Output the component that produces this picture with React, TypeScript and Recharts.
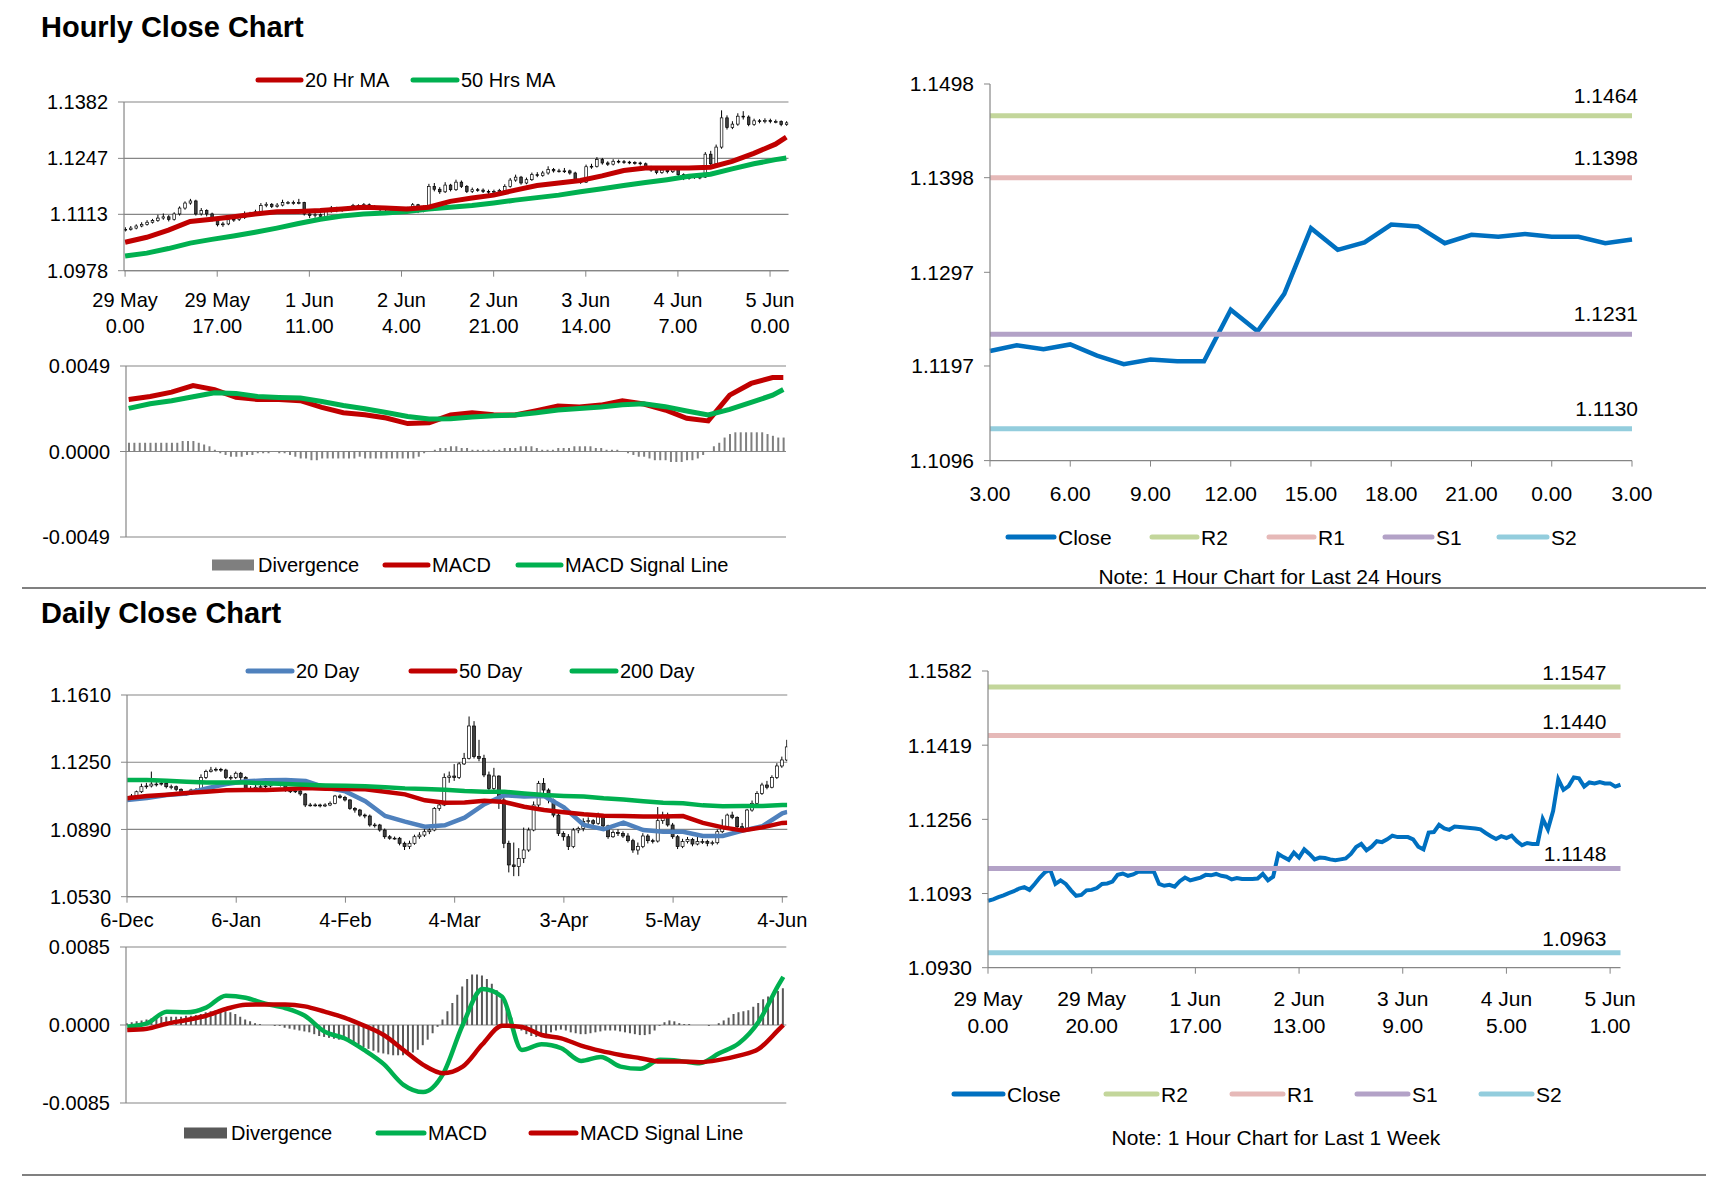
import React from "react";
import {
  ComposedChart,
  Bar,
  Line,
  XAxis,
  YAxis,
  CartesianGrid,
  ReferenceLine,
} from "recharts";

// ---------- hourly data (29 May 0.00 -> 5 Jun 3.00, one row per hour) ----------
const hourlyClose = [
  1.1077, 1.108, 1.1085, 1.1089, 1.1094, 1.1098, 1.1104, 1.1107, 1.1101, 1.1114,
  1.1128, 1.114, 1.1145, 1.1114, 1.1122, 1.1114, 1.11, 1.1088, 1.109, 1.11,
  1.1101, 1.1105, 1.1114, 1.1115, 1.1119, 1.1134, 1.1137, 1.1132, 1.1135, 1.1141,
  1.1141, 1.1141, 1.1141, 1.1114, 1.111, 1.1112, 1.1108, 1.112, 1.1128, 1.1122,
  1.1125, 1.1128, 1.1134, 1.1133, 1.1136, 1.1132, 1.113, 1.1124, 1.1127, 1.1125,
  1.1125, 1.1125, 1.1126, 1.1136, 1.1122, 1.113, 1.118, 1.1173, 1.1167, 1.1183,
  1.1172, 1.119, 1.118, 1.1168, 1.1172, 1.1171, 1.1168, 1.1166, 1.1168, 1.117,
  1.118, 1.1195, 1.1202, 1.1188, 1.1196, 1.1208, 1.1206, 1.1212, 1.122, 1.1217,
  1.1217, 1.1217, 1.1212, 1.1196, 1.119, 1.1227, 1.1228, 1.1244, 1.1236, 1.1233,
  1.124, 1.1239, 1.1238, 1.1237, 1.1236, 1.1234, 1.1226, 1.1219, 1.1213, 1.1219,
  1.1215, 1.122, 1.1208, 1.1199, 1.1204, 1.1202, 1.1202, 1.1257, 1.1234, 1.1274,
  1.1344, 1.1321, 1.1329, 1.1348, 1.1346, 1.1328, 1.1337, 1.1335, 1.1338, 1.1335,
  1.1335, 1.1328, 1.1332,
];
const hourlyHigh = [
  1.1082, 1.1085, 1.1089, 1.1094, 1.1099, 1.1102, 1.1112, 1.1115, 1.1111, 1.1118,
  1.1132, 1.1144, 1.115, 1.1148, 1.1128, 1.1125, 1.1117, 1.1103, 1.1095, 1.1104,
  1.1106, 1.111, 1.112, 1.1119, 1.1124, 1.114, 1.1142, 1.114, 1.114, 1.1148,
  1.1145, 1.1146, 1.115, 1.1143, 1.1118, 1.1117, 1.1115, 1.1124, 1.1133, 1.1131,
  1.113, 1.1132, 1.1138, 1.1137, 1.114, 1.1139, 1.1135, 1.1133, 1.1131, 1.113,
  1.1129, 1.1129, 1.1131, 1.114, 1.1138, 1.1134, 1.1186, 1.1188, 1.1178, 1.119,
  1.1186, 1.1196, 1.1194, 1.1183, 1.1177, 1.1176, 1.1175, 1.1172, 1.1172, 1.1174,
  1.1185, 1.12, 1.1208, 1.1205, 1.1201, 1.1213, 1.1214, 1.1217, 1.1228, 1.1224,
  1.1222, 1.1224, 1.122, 1.1215, 1.12, 1.1232, 1.1234, 1.125, 1.1248, 1.124,
  1.1245, 1.1244, 1.1243, 1.1241, 1.124, 1.1239, 1.1237, 1.1229, 1.1222, 1.1224,
  1.1222, 1.1225, 1.1223, 1.1211, 1.1209, 1.1208, 1.1207, 1.1262, 1.1265, 1.128,
  1.1362, 1.135, 1.1336, 1.1355, 1.136, 1.135, 1.1342, 1.1341, 1.1343, 1.1342,
  1.134, 1.1338, 1.1336,
];
const hourlyLow = [
  1.1072, 1.1074, 1.1077, 1.1082, 1.1086, 1.1091, 1.1095, 1.11, 1.1096, 1.1098,
  1.111, 1.1124, 1.1136, 1.111, 1.111, 1.1108, 1.1096, 1.1084, 1.1083, 1.1087,
  1.1095, 1.1097, 1.1102, 1.111, 1.1111, 1.1116, 1.113, 1.1128, 1.1129, 1.1132,
  1.1137, 1.1136, 1.1137, 1.111, 1.1104, 1.1105, 1.1103, 1.1105, 1.1117, 1.1118,
  1.1119, 1.1121, 1.1125, 1.1129, 1.113, 1.1128, 1.1126, 1.112, 1.1121, 1.1121,
  1.1121, 1.1122, 1.1121, 1.1123, 1.1116, 1.1118, 1.1127, 1.1168, 1.1162, 1.1164,
  1.1168, 1.1169, 1.1176, 1.1164, 1.1164, 1.1167, 1.1164, 1.1162, 1.1162, 1.1164,
  1.1167, 1.1177, 1.1191, 1.1184, 1.1185, 1.1193, 1.1202, 1.1203, 1.1208, 1.1213,
  1.1213, 1.1212, 1.1208, 1.1192, 1.1186, 1.1188, 1.1222, 1.1225, 1.1232, 1.1229,
  1.123, 1.1235, 1.1234, 1.1233, 1.1232, 1.123, 1.1222, 1.1215, 1.1209, 1.121,
  1.1211, 1.1212, 1.1204, 1.1195, 1.1196, 1.1198, 1.1197, 1.12, 1.123, 1.123,
  1.127, 1.1316, 1.1317, 1.1325, 1.134, 1.1324, 1.1325, 1.1331, 1.1331, 1.1331,
  1.1331, 1.1324, 1.1325,
];
const hourlyTickIdx = [0, 17, 34, 51, 68, 85, 102, 119];
const hourlyTickLabels = [
  ["29 May", "0.00"], ["29 May", "17.00"], ["1 Jun", "11.00"], ["2 Jun", "4.00"],
  ["2 Jun", "21.00"], ["3 Jun", "14.00"], ["4 Jun", "7.00"], ["5 Jun", "0.00"],
];
const hourlySampleIdx = [
  0, 4, 8, 12, 16, 20, 24, 28, 32, 36, 40, 44, 48, 52, 56, 60, 64, 68, 72, 76,
  80, 84, 88, 92, 96, 100, 104, 108, 112, 116, 120, 122,
];
const hourlyMa20 = [
  1.1046, 1.1058, 1.1075, 1.1096, 1.1101, 1.1107, 1.1114, 1.1119, 1.112, 1.1122,
  1.1126, 1.113, 1.1128, 1.1126, 1.113, 1.1144, 1.1152, 1.1159, 1.1171, 1.1182,
  1.1188, 1.1194, 1.1205, 1.1218, 1.1224, 1.1224, 1.1224, 1.1226, 1.124, 1.1259,
  1.1281, 1.1298,
];
const hourlyMa50 = [
  1.1013, 1.102, 1.1031, 1.1044, 1.1053, 1.1061, 1.107, 1.108, 1.1091, 1.1101,
  1.1109, 1.1114, 1.1116, 1.112, 1.1126, 1.113, 1.1134, 1.114, 1.1147, 1.1153,
  1.1159, 1.1167, 1.1174, 1.1182, 1.1189, 1.1196, 1.1204, 1.1209, 1.1222, 1.1234,
  1.1244, 1.1248,
];
const hourlyMacd = [
  0.00298, 0.00315, 0.0034, 0.00378, 0.00355, 0.0031, 0.00298, 0.00298, 0.00291, 0.00253,
  0.00222, 0.00211, 0.00192, 0.0016, 0.00165, 0.00209, 0.00222, 0.00211, 0.00209, 0.00234,
  0.0026, 0.00255, 0.00266, 0.00291, 0.00272, 0.00238, 0.0019, 0.00175, 0.00323, 0.0039,
  0.00424, 0.00424,
];
const hourlySignal = [
  0.00247, 0.00274, 0.00291, 0.00314, 0.00336, 0.00333, 0.00315, 0.0031, 0.00306, 0.00287,
  0.00264, 0.00245, 0.00224, 0.00201, 0.00186, 0.00188, 0.00198, 0.00205, 0.00209, 0.00222,
  0.00238, 0.00247, 0.00255, 0.00268, 0.00274, 0.00257, 0.00232, 0.00209, 0.00241, 0.00281,
  0.00323, 0.00355,
];
const hourlyDivergence = [
  0.0005, 0.0005, 0.0005, 0.0005, 0.0005, 0.0005, 0.0005, 0.0005, 0.0005, 0.0005,
  0.0006, 0.0006, 0.0006, 0.0005, 0.0004, 0.0003, 0.0001, -0.0001, -0.0002, -0.0003,
  -0.0003, -0.0003, -0.0002, -0.0002, -0.0001, -0.0001, -0.0001, 0, -0.0001, -0.0001,
  -0.0002, -0.0003, -0.0004, -0.0004, -0.0005, -0.0005, -0.0004, -0.0004, -0.0004, -0.0004,
  -0.0004, -0.0004, -0.0004, -0.0003, -0.0004, -0.0004, -0.0004, -0.0004, -0.0004, -0.0004,
  -0.0004, -0.0004, -0.0004, -0.0004, -0.0003, -0.0001, 0, 0.0001, 0.0002, 0.0002,
  0.0003, 0.0003, 0.0002, 0.0002, 0.0001, 0.0001, 0.0001, 0.0001, 0.0001, 0.0001,
  0.0002, 0.0002, 0.0002, 0.0003, 0.0003, 0.0003, 0.0002, 0.0001, 0.0001, 0.0001,
  0.0002, 0.0002, 0.0002, 0.0003, 0.0003, 0.0003, 0.0003, 0.0002, 0.0002, 0.0001,
  0.0001, 0.0001, 0, -0.0001, -0.0002, -0.0003, -0.0003, -0.0004, -0.0005, -0.0005,
  -0.0005, -0.0006, -0.0006, -0.0006, -0.0005, -0.0005, -0.0004, -0.0002, 0, 0.0003,
  0.0005, 0.0008, 0.001, 0.0011, 0.0011, 0.0011, 0.0011, 0.0011, 0.0011, 0.001,
  0.0009, 0.0008, 0.0008,
];
const hourlyPriceTicks = [1.0978, 1.1113, 1.1247, 1.1382];
const hourlyMacdTicks = [-0.0049, 0, 0.0049];

// ---------- pivot levels ----------
const levelNames = ["R2", "R1", "S1", "S2"];
const levels24h = [1.1464, 1.1398, 1.1231, 1.113];
const levelsWeek = [1.1547, 1.144, 1.1148, 1.0963];
const last24Ticks = [1.1096, 1.1197, 1.1297, 1.1398, 1.1498];
const last24TickIdx = [0, 3, 6, 9, 12, 15, 18, 21, 24];
const last24TickLabels = ["3.00", "6.00", "9.00", "12.00", "15.00", "18.00", "21.00", "0.00", "3.00"];
const weekTicks = [1.093, 1.1093, 1.1256, 1.1419, 1.1582];
const weekTickIdx = [0, 20, 40, 60, 80, 100, 120];
const weekTickLabels = [
  ["29 May", "0.00"], ["29 May", "20.00"], ["1 Jun", "17.00"], ["2 Jun", "13.00"],
  ["3 Jun", "9.00"], ["4 Jun", "5.00"], ["5 Jun", "1.00"],
];

// ---------- daily data (6 Dec -> 5 Jun) ----------
const dailyClose = [
  1.1066, 1.1069, 1.1092, 1.1119, 1.1123, 1.1133, 1.1133, 1.1137, 1.1119, 1.1119,
  1.1105, 1.1083, 1.108, 1.1101, 1.1101, 1.1169, 1.12, 1.1208, 1.1212, 1.1208,
  1.1169, 1.1169, 1.1191, 1.1169, 1.111, 1.111, 1.1116, 1.1119, 1.1123, 1.1146,
  1.1151, 1.1128, 1.1101, 1.1092, 1.1096, 1.108, 1.1021, 1.1021, 1.1021, 1.1016,
  1.1021, 1.103, 1.1069, 1.1062, 1.1048, 1.1003, 1.0994, 1.0967, 1.0962, 1.0914,
  1.0914, 1.0887, 1.0851, 1.0843, 1.0843, 1.0816, 1.0798, 1.0816, 1.0851, 1.086,
  1.0878, 1.0887, 1.1003, 1.1021, 1.1169, 1.1176, 1.1169, 1.1241, 1.1271, 1.1444,
  1.128, 1.1271, 1.1182, 1.111, 1.1176, 1.1048, 1.0816, 1.07, 1.0691, 1.0735,
  1.078, 1.0887, 1.1021, 1.1137, 1.1101, 1.1048, 1.0967, 1.0869, 1.0851, 1.0798,
  1.0887, 1.0896, 1.0932, 1.0937, 1.0923, 1.0967, 1.0909, 1.0851, 1.0873, 1.0869,
  1.0855, 1.083, 1.078, 1.0798, 1.0855, 1.083, 1.0828, 1.0937, 1.0967, 1.0914,
  1.0851, 1.0798, 1.0825, 1.0837, 1.0812, 1.0825, 1.0825, 1.0816, 1.0819, 1.0878,
  1.0905, 1.0967, 1.0955, 1.0905, 1.0896, 1.0994, 1.103, 1.1083, 1.1128, 1.1116,
  1.1169, 1.123, 1.1262, 1.1332,
];
const dailyHigh = [
  1.108, 1.108, 1.1098, 1.1135, 1.114, 1.12, 1.1145, 1.115, 1.1145, 1.113,
  1.1125, 1.111, 1.1092, 1.1108, 1.1112, 1.1185, 1.121, 1.1225, 1.1222, 1.122,
  1.1215, 1.118, 1.12, 1.1198, 1.1175, 1.1122, 1.1128, 1.113, 1.1135, 1.116,
  1.1165, 1.1158, 1.1135, 1.111, 1.1108, 1.1102, 1.1085, 1.1032, 1.103, 1.1028,
  1.103, 1.104, 1.1075, 1.1078, 1.107, 1.1052, 1.101, 1.1, 1.0975, 1.097,
  1.0925, 1.092, 1.0895, 1.086, 1.0852, 1.085, 1.0825, 1.083, 1.0862, 1.0875,
  1.0892, 1.09, 1.101, 1.104, 1.119, 1.12, 1.124, 1.125, 1.13, 1.1495,
  1.147, 1.137, 1.129, 1.12, 1.122, 1.118, 1.11, 1.083, 1.082, 1.079,
  1.09, 1.09, 1.104, 1.115, 1.1165, 1.111, 1.1055, 1.098, 1.088, 1.0865,
  1.0898, 1.0905, 1.095, 1.0955, 1.0945, 1.098, 1.0972, 1.0915, 1.0885, 1.089,
  1.088, 1.087, 1.084, 1.082, 1.087, 1.0865, 1.084, 1.101, 1.0985, 1.098,
  1.0925, 1.086, 1.084, 1.085, 1.0845, 1.085, 1.084, 1.0835, 1.083, 1.089,
  1.0945, 1.0975, 1.0985, 1.096, 1.0925, 1.1, 1.1045, 1.1095, 1.114, 1.115,
  1.118, 1.1245, 1.128, 1.137,
];
const dailyLow = [
  1.105, 1.1058, 1.1062, 1.1085, 1.1108, 1.1115, 1.112, 1.1125, 1.111, 1.1105,
  1.1095, 1.1072, 1.107, 1.1075, 1.109, 1.1095, 1.116, 1.1195, 1.12, 1.1198,
  1.116, 1.1155, 1.116, 1.1155, 1.11, 1.1098, 1.1102, 1.1105, 1.111, 1.1115,
  1.1138, 1.112, 1.1092, 1.1085, 1.1085, 1.107, 1.101, 1.1012, 1.1012, 1.1008,
  1.101, 1.1015, 1.1025, 1.1055, 1.104, 1.0995, 1.098, 1.0958, 1.095, 1.0905,
  1.09, 1.0878, 1.084, 1.0835, 1.0835, 1.0805, 1.078, 1.0785, 1.0808, 1.084,
  1.085, 1.0865, 1.088, 1.099, 1.1015, 1.114, 1.115, 1.116, 1.1235, 1.1265,
  1.127, 1.1255, 1.117, 1.1085, 1.1095, 1.1, 1.079, 1.066, 1.064, 1.064,
  1.071, 1.077, 1.088, 1.101, 1.1085, 1.103, 1.0955, 1.0855, 1.083, 1.078,
  1.079, 1.087, 1.088, 1.092, 1.091, 1.0915, 1.0898, 1.084, 1.0845, 1.0855,
  1.0845, 1.082, 1.0765, 1.0755, 1.079, 1.0815, 1.0815, 1.082, 1.092, 1.0905,
  1.084, 1.0785, 1.079, 1.0815, 1.08, 1.0805, 1.0812, 1.08, 1.0805, 1.081,
  1.087, 1.0895, 1.0945, 1.0895, 1.0885, 1.089, 1.0985, 1.102, 1.1075, 1.1105,
  1.111, 1.116, 1.122, 1.1255,
];
const dailyTickIdx = [0, 22, 44, 66, 88, 110, 132];
const dailyTickLabels = ["6-Dec", "6-Jan", "4-Feb", "4-Mar", "3-Apr", "5-May", "4-Jun"];
const dailySampleIdx = [
  0, 4, 8, 12, 16, 20, 24, 28, 32, 36, 40, 44, 48, 52, 56, 60, 64, 68, 72, 76,
  80, 84, 88, 92, 96, 100, 104, 108, 112, 116, 120, 124, 128, 132, 133,
];
const daily20 = [
  1.1048, 1.1058, 1.1074, 1.1083, 1.111, 1.1133, 1.1148, 1.1153, 1.1155, 1.115,
  1.1114, 1.1094, 1.1041, 1.0962, 1.0932, 1.0905, 1.0912, 1.0953, 1.1025, 1.1073,
  1.1067, 1.1069, 1.1008, 1.0914, 1.0891, 1.0926, 1.0887, 1.0878, 1.0878, 1.0855,
  1.0855, 1.0884, 1.0908, 1.0976, 1.0984,
];
const daily50 = [
  1.1057, 1.1069, 1.1076, 1.1085, 1.1092, 1.11, 1.1101, 1.1101, 1.1105, 1.1112,
  1.1108, 1.1107, 1.1105, 1.1092, 1.1078, 1.1046, 1.1033, 1.1035, 1.1044, 1.1037,
  1.1012, 1.0994, 1.0982, 1.0971, 1.0964, 1.0962, 1.0959, 1.096, 1.0962, 1.0925,
  1.0901, 1.0884, 1.0901, 1.0925, 1.0926,
];
const daily200 = [
  1.1155, 1.1155, 1.1151, 1.1146, 1.1142, 1.1141, 1.1141, 1.1137, 1.1133, 1.113,
  1.1126, 1.1124, 1.1121, 1.1116, 1.111, 1.1107, 1.1103, 1.1096, 1.1092, 1.1092,
  1.1082, 1.1074, 1.1069, 1.1066, 1.1057, 1.1051, 1.1041, 1.1033, 1.103, 1.1019,
  1.1014, 1.1016, 1.1016, 1.1021, 1.1021,
];
const dailyMacd = [
  -0.00018, 0.00018, 0.00145, 0.00138, 0.0019, 0.00319, 0.00297, 0.00232, 0.00185, 0.00101,
  -0.00072, -0.00145, -0.00272, -0.00427, -0.00652, -0.00731, -0.00536, 0, 0.00391, 0.00308,
  -0.00272, -0.0021, -0.00253, -0.00391, -0.00348, -0.00453, -0.00478, -0.0038, -0.00391, -0.00416,
  -0.00308, -0.00199, 0.00036, 0.00434, 0.00525,
];
const dailySignal = [
  -0.00054, -0.0004, 0.00014, 0.00054, 0.00101, 0.00174, 0.00221, 0.00224, 0.00224, 0.00203,
  0.00145, 0.0008, -0.00007, -0.00109, -0.00272, -0.00434, -0.00525, -0.00453, -0.0021, -0.00007,
  -0.00022, -0.00109, -0.00145, -0.00224, -0.00282, -0.00326, -0.00362, -0.00398, -0.00398, -0.00405,
  -0.0038, -0.00333, -0.00261, -0.00054, 0,
];
const dailyDivergence = [
  0.0002, 0.0003, 0.0004, 0.0005, 0.0006, 0.0007, 0.0008, 0.0009, 0.0009, 0.0009,
  0.0009, 0.0009, 0.001, 0.001, 0.0011, 0.0012, 0.0014, 0.0015, 0.0016, 0.0016,
  0.0015, 0.0014, 0.0012, 0.0009, 0.0006, 0.0004, 0.0002, 0.0001, 0, 0,
  -0.0001, -0.0001, -0.0003, -0.0004, -0.0005, -0.0006, -0.0007, -0.0008, -0.001, -0.0012,
  -0.0013, -0.0014, -0.0015, -0.0016, -0.0016, -0.0017, -0.0019, -0.0021, -0.0024, -0.0026,
  -0.0028, -0.003, -0.0031, -0.0032, -0.0033, -0.0033, -0.0033, -0.0032, -0.003, -0.0027,
  -0.0022, -0.0016, -0.0009, -0.0002, 0.0006, 0.0015, 0.0024, 0.0033, 0.0042, 0.005,
  0.0055, 0.0055, 0.0054, 0.005, 0.0045, 0.0038, 0.0029, 0.0019, 0.0008, 0,
  -0.0006, -0.001, -0.0012, -0.0013, -0.0012, -0.001, -0.0008, -0.0006, -0.0005, -0.0006,
  -0.0008, -0.0009, -0.001, -0.001, -0.0009, -0.0008, -0.0007, -0.0006, -0.0006, -0.0006,
  -0.0007, -0.0008, -0.0009, -0.001, -0.0011, -0.0011, -0.001, -0.0006, -0.0001, 0.0003,
  0.0005, 0.0004, 0.0002, 0.0001, 0.0001, 0, 0, 0, -0.0001, 0,
  0.0002, 0.0005, 0.0008, 0.0012, 0.0014, 0.0015, 0.0016, 0.002, 0.0024, 0.0028,
  0.0031, 0.0034, 0.0037, 0.004,
];
const dailyPriceTicks = [1.053, 1.089, 1.125, 1.161];
const dailyMacdTicks = [-0.0085, 0, 0.0085];

// ---------- styles ----------
const FONT = "'Liberation Sans', Arial, sans-serif";
const AXIS = "#868686";
const RED = "#c00000";
const GREEN = "#00b050";
const BLUE = "#0070c0";
const STEEL = "#4f81bd";
const LEVEL_COLORS = ["#c3d69b", "#e6b9b8", "#b3a2c7", "#93cddd"];
const YW = 120;
const RM = 45;
const TM = 20;
const BM = 20;

// ---------- rows ----------
const pick = (idx: number[], vals: number[], i: number) => {
  const k = idx.indexOf(i);
  return k < 0 ? null : vals[k];
};

const hourlyRows = hourlyClose.map((close, i) => ({
  i,
  open: i === 0 ? close : hourlyClose[i - 1],
  close,
  high: hourlyHigh[i],
  low: hourlyLow[i],
  range: [hourlyLow[i], hourlyHigh[i]],
  ma20: pick(hourlySampleIdx, hourlyMa20, i),
  ma50: pick(hourlySampleIdx, hourlyMa50, i),
  macd: pick(hourlySampleIdx, hourlyMacd, i),
  signal: pick(hourlySampleIdx, hourlySignal, i),
  div: hourlyDivergence[i],
}));

const last24Rows = hourlyClose.slice(hourlyClose.length - 25).map((close, j) => ({ j, close }));

const dailyRows = dailyClose.map((close, i) => ({
  i,
  open: i === 0 ? close : dailyClose[i - 1],
  close,
  high: dailyHigh[i],
  low: dailyLow[i],
  range: [dailyLow[i], dailyHigh[i]],
  d20: pick(dailySampleIdx, daily20, i),
  d50: pick(dailySampleIdx, daily50, i),
  d200: pick(dailySampleIdx, daily200, i),
  macd: pick(dailySampleIdx, dailyMacd, i),
  signal: pick(dailySampleIdx, dailySignal, i),
  div: dailyDivergence[i],
}));

// ---------- plot rectangles (left, top, right, bottom) ----------
const PA = { l: 123.5, t: 102.3, r: 788, b: 271 };
const PB = { l: 126, t: 365.7, r: 786, b: 536.7 };
const PC = { l: 990, t: 83.7, r: 1632, b: 460.3 };
const PD = { l: 126.7, t: 695, r: 787, b: 896.7 };
const PE = { l: 126.4, t: 947.3, r: 786.7, b: 1103.3 };
const PF = { l: 988, t: 671, r: 1620.5, b: 967.7 };

const boxOf = (p: any, xh: number) => ({
  left: p.l - YW,
  top: p.t - TM,
  width: p.r - p.l + YW + RM,
  height: p.b - p.t + TM + BM + xh,
});
const MARGIN = { top: TM, right: RM, bottom: BM, left: 0 };
const f4 = (v: number) => v.toFixed(4);

// ---------- pieces ----------
const Candle = (props: any) => {
  const { x, y, width, height, payload, bodyWidth } = props;
  if (!payload || x == null || y == null) return <g />;
  const top = Math.min(y, y + height);
  const bottom = Math.max(y, y + height);
  const span = payload.high - payload.low;
  const k = span > 0 ? (bottom - top) / span : 0;
  const py = (v: number) => top + (payload.high - v) * k;
  const cx = x + width / 2;
  const bTop = py(Math.max(payload.open, payload.close));
  const bBot = py(Math.min(payload.open, payload.close));
  const up = payload.close >= payload.open;
  return (
    <g>
      <line x1={cx} x2={cx} y1={top} y2={bottom} stroke="#000" strokeWidth={1} />
      <rect
        x={cx - bodyWidth / 2}
        y={bTop}
        width={bodyWidth}
        height={Math.max(bBot - bTop, 0.8)}
        fill={up ? "#fff" : "#404040"}
        stroke="#000"
        strokeWidth={0.7}
      />
    </g>
  );
};

const twoLineTick = (idx: number[], labels: string[][], d1: number, d2: number, size: number) =>
  (props: any) => {
    const { x, y, payload } = props;
    const k = idx.indexOf(payload.value);
    if (k < 0) return <g />;
    return (
      <text x={x} y={y} textAnchor="middle" fontFamily={FONT} fontSize={size} fill="#000">
        <tspan x={x} dy={d1}>{labels[k][0]}</tspan>
        <tspan x={x} dy={d2}>{labels[k][1]}</tspan>
      </text>
    );
  };

const oneLineTick = (idx: number[], labels: string[], d1: number, size: number) => (props: any) => {
  const { x, y, payload } = props;
  const k = idx.indexOf(payload.value);
  if (k < 0) return <g />;
  return (
    <text x={x} y={y + d1} textAnchor="middle" fontFamily={FONT} fontSize={size} fill="#000">
      {labels[k]}
    </text>
  );
};

const levelLabel = (text: string, dx: number, dy: number) => (props: any) => {
  const vb = props.viewBox || {};
  return (
    <text
      x={(vb.x || 0) + (vb.width || 0) + dx}
      y={(vb.y || 0) + dy}
      textAnchor="end"
      fontFamily={FONT}
      fontSize={21}
      fill="#000"
    >
      {text}
    </text>
  );
};

const yTick = (size: number) => ({ fontFamily: FONT, fontSize: size, fill: "#000" });

const LegendLine = ({ x1, x2, y, color, label, size = 20 }: any) => (
  <g>
    <line x1={x1} x2={x2} y1={y} y2={y} stroke={color} strokeWidth={5} strokeLinecap="round" />
    <text x={x2 + 4} y={y + size * 0.358} fontFamily={FONT} fontSize={size} fill="#000">
      {label}
    </text>
  </g>
);

const LegendBox = ({ x1, x2, y, color, label, size = 20 }: any) => (
  <g>
    <rect x={x1} y={y - 5.5} width={x2 - x1} height={11} fill={color} />
    <text x={x2 + 4} y={y + size * 0.358} fontFamily={FONT} fontSize={size} fill="#000">
      {label}
    </text>
  </g>
);

export default function App() {
  const bA = boxOf(PA, 70);
  const bB = boxOf(PB, 0);
  const bC = boxOf(PC, 60);
  const bD = boxOf(PD, 40);
  const bE = boxOf(PE, 0);
  const bF = boxOf(PF, 75);

  return (
    <div style={{ position: "absolute", left: 0, top: 0, width: 1711, height: 1178, background: "#fff", overflow: "hidden" }}>
      {/* Hourly candles */}
      <div style={{ position: "absolute", left: bA.left, top: bA.top }}>
        <ComposedChart width={bA.width} height={bA.height} data={hourlyRows} margin={MARGIN}>
          <CartesianGrid vertical={false} stroke={AXIS} strokeWidth={1.2} />
          <XAxis
            type="number"
            dataKey="i"
            domain={[-0.2, 122.4]}
            allowDataOverflow
            ticks={hourlyTickIdx}
            interval={0}
            height={70}
            tickSize={6}
            tickMargin={0}
            axisLine={{ stroke: AXIS, strokeWidth: 1.2 }}
            tickLine={{ stroke: AXIS }}
            tick={twoLineTick(hourlyTickIdx, hourlyTickLabels, 30, 26, 20)}
          />
          <YAxis
            type="number"
            domain={[hourlyPriceTicks[0], hourlyPriceTicks[hourlyPriceTicks.length - 1]]}
            ticks={hourlyPriceTicks}
            interval={0}
            allowDataOverflow
            width={YW}
            tickFormatter={f4}
            tick={yTick(20)}
            tickSize={6}
            tickMargin={10}
            axisLine={{ stroke: AXIS, strokeWidth: 1.2 }}
            tickLine={{ stroke: AXIS }}
          />
          <Line dataKey="ma50" stroke={GREEN} strokeWidth={5} dot={false} activeDot={false} connectNulls isAnimationActive={false} />
          <Line dataKey="ma20" stroke={RED} strokeWidth={5} dot={false} activeDot={false} connectNulls isAnimationActive={false} />
          <Bar dataKey="range" barSize={4} isAnimationActive={false} shape={(p: any) => <Candle {...p} bodyWidth={2.6} />} />
        </ComposedChart>
      </div>

      {/* Hourly MACD */}
      <div style={{ position: "absolute", left: bB.left, top: bB.top }}>
        <ComposedChart width={bB.width} height={bB.height} data={hourlyRows} margin={MARGIN}>
          <CartesianGrid vertical={false} stroke={AXIS} strokeWidth={1.2} />
          <XAxis type="number" dataKey="i" domain={[-0.5, 122.5]} allowDataOverflow hide />
          <YAxis
            type="number"
            domain={[hourlyMacdTicks[0], hourlyMacdTicks[2]]}
            ticks={hourlyMacdTicks}
            interval={0}
            allowDataOverflow
            width={YW}
            tickFormatter={f4}
            tick={yTick(20)}
            tickSize={6}
            tickMargin={10}
            axisLine={{ stroke: AXIS, strokeWidth: 1.2 }}
            tickLine={{ stroke: AXIS }}
          />
          <Bar dataKey="div" fill="#7f7f7f" barSize={2} isAnimationActive={false} />
          <Line dataKey="macd" stroke={RED} strokeWidth={5} dot={false} activeDot={false} connectNulls isAnimationActive={false} />
          <Line dataKey="signal" stroke={GREEN} strokeWidth={5} dot={false} activeDot={false} connectNulls isAnimationActive={false} />
        </ComposedChart>
      </div>

      {/* Last 24 hours */}
      <div style={{ position: "absolute", left: bC.left, top: bC.top }}>
        <ComposedChart width={bC.width} height={bC.height} data={last24Rows} margin={MARGIN}>
          <XAxis
            type="number"
            dataKey="j"
            domain={[0, 24]}
            ticks={last24TickIdx}
            interval={0}
            height={60}
            tickSize={6}
            tickMargin={0}
            axisLine={{ stroke: AXIS, strokeWidth: 1.2 }}
            tickLine={{ stroke: AXIS }}
            tick={oneLineTick(last24TickIdx, last24TickLabels, 34, 21)}
          />
          <YAxis
            type="number"
            domain={[last24Ticks[0], last24Ticks[last24Ticks.length - 1]]}
            ticks={last24Ticks}
            interval={0}
            allowDataOverflow
            width={YW}
            tickFormatter={f4}
            tick={yTick(21)}
            tickSize={6}
            tickMargin={10}
            axisLine={{ stroke: AXIS, strokeWidth: 1.2 }}
            tickLine={{ stroke: AXIS }}
          />
          <Line dataKey="close" stroke={BLUE} strokeWidth={4.5} dot={false} activeDot={false} isAnimationActive={false} />
          {levels24h.map((v, k) => (
            <ReferenceLine
              key={levelNames[k]}
              y={v}
              stroke={LEVEL_COLORS[k]}
              strokeWidth={5}
              label={levelLabel(f4(v), 6, -13)}
            />
          ))}
        </ComposedChart>
      </div>

      {/* Daily candles */}
      <div style={{ position: "absolute", left: bD.left, top: bD.top }}>
        <ComposedChart width={bD.width} height={bD.height} data={dailyRows} margin={MARGIN}>
          <CartesianGrid vertical={false} stroke={AXIS} strokeWidth={1.2} />
          <XAxis
            type="number"
            dataKey="i"
            domain={[0, 133]}
            allowDataOverflow
            ticks={dailyTickIdx}
            interval={0}
            height={40}
            tickSize={6}
            tickMargin={0}
            axisLine={{ stroke: AXIS, strokeWidth: 1.2 }}
            tickLine={{ stroke: AXIS }}
            tick={oneLineTick(dailyTickIdx, dailyTickLabels, 24.5, 20)}
          />
          <YAxis
            type="number"
            domain={[dailyPriceTicks[0], dailyPriceTicks[dailyPriceTicks.length - 1]]}
            ticks={dailyPriceTicks}
            interval={0}
            allowDataOverflow
            width={YW}
            tickFormatter={f4}
            tick={yTick(20)}
            tickSize={6}
            tickMargin={10}
            axisLine={{ stroke: AXIS, strokeWidth: 1.2 }}
            tickLine={{ stroke: AXIS }}
          />
          <Line dataKey="d20" stroke={STEEL} strokeWidth={4.5} dot={false} activeDot={false} connectNulls isAnimationActive={false} />
          <Line dataKey="d50" stroke={RED} strokeWidth={4.5} dot={false} activeDot={false} connectNulls isAnimationActive={false} />
          <Line dataKey="d200" stroke={GREEN} strokeWidth={4.5} dot={false} activeDot={false} connectNulls isAnimationActive={false} />
          <Bar dataKey="range" barSize={4} isAnimationActive={false} shape={(p: any) => <Candle {...p} bodyWidth={3} />} />
        </ComposedChart>
      </div>

      {/* Daily MACD */}
      <div style={{ position: "absolute", left: bE.left, top: bE.top }}>
        <ComposedChart width={bE.width} height={bE.height} data={dailyRows} margin={MARGIN}>
          <CartesianGrid vertical={false} stroke={AXIS} strokeWidth={1.2} />
          <XAxis type="number" dataKey="i" domain={[-0.25, 133.6]} allowDataOverflow hide />
          <YAxis
            type="number"
            domain={[dailyMacdTicks[0], dailyMacdTicks[2]]}
            ticks={dailyMacdTicks}
            interval={0}
            allowDataOverflow
            width={YW}
            tickFormatter={f4}
            tick={yTick(20)}
            tickSize={6}
            tickMargin={10}
            axisLine={{ stroke: AXIS, strokeWidth: 1.2 }}
            tickLine={{ stroke: AXIS }}
          />
          <Bar dataKey="div" fill="#595959" barSize={2} isAnimationActive={false} />
          <Line dataKey="macd" stroke={GREEN} strokeWidth={4.5} dot={false} activeDot={false} connectNulls type="monotone" isAnimationActive={false} />
          <Line dataKey="signal" stroke={RED} strokeWidth={4.5} dot={false} activeDot={false} connectNulls type="monotone" isAnimationActive={false} />
        </ComposedChart>
      </div>

      {/* Last week hourly close */}
      <div style={{ position: "absolute", left: bF.left, top: bF.top }}>
        <ComposedChart width={bF.width} height={bF.height} data={hourlyRows} margin={MARGIN}>
          <XAxis
            type="number"
            dataKey="i"
            domain={[0, 122]}
            ticks={weekTickIdx}
            interval={0}
            height={75}
            tickSize={6}
            tickMargin={0}
            axisLine={{ stroke: AXIS, strokeWidth: 1.2 }}
            tickLine={{ stroke: AXIS }}
            tick={twoLineTick(weekTickIdx, weekTickLabels, 32, 27, 21)}
          />
          <YAxis
            type="number"
            domain={[weekTicks[0], weekTicks[weekTicks.length - 1]]}
            ticks={weekTicks}
            interval={0}
            allowDataOverflow
            width={YW}
            tickFormatter={f4}
            tick={yTick(21)}
            tickSize={6}
            tickMargin={10}
            axisLine={{ stroke: AXIS, strokeWidth: 1.2 }}
            tickLine={{ stroke: AXIS }}
          />
          <Line dataKey="close" stroke={BLUE} strokeWidth={4} dot={false} activeDot={false} isAnimationActive={false} />
          {levelsWeek.map((v, k) => (
            <ReferenceLine
              key={levelNames[k]}
              y={v}
              stroke={LEVEL_COLORS[k]}
              strokeWidth={5}
              label={levelLabel(f4(v), -14, -7)}
            />
          ))}
        </ComposedChart>
      </div>

      {/* Titles, legends, notes, separators */}
      <svg width={1711} height={1178} style={{ position: "absolute", left: 0, top: 0, pointerEvents: "none" }}>
        <text x={41} y={36.5} fontFamily={FONT} fontWeight="bold" fontSize={29} fill="#000">
          Hourly Close Chart
        </text>
        <text x={41} y={622.5} fontFamily={FONT} fontWeight="bold" fontSize={29} fill="#000">
          Daily Close Chart
        </text>

        <LegendLine x1={258} x2={301} y={80} color={RED} label="20 Hr MA" />
        <LegendLine x1={413} x2={457} y={80} color={GREEN} label="50 Hrs MA" />

        <LegendBox x1={212} x2={254} y={565} color="#7f7f7f" label="Divergence" />
        <LegendLine x1={385} x2={428} y={565} color={RED} label="MACD" />
        <LegendLine x1={518} x2={561} y={565} color={GREEN} label="MACD Signal Line" />

        <LegendLine x1={1008} x2={1054} y={537} color={BLUE} label="Close" size={21} />
        {levelNames.map((n, k) => (
          <LegendLine key={n} x1={[1152, 1269, 1385, 1499][k]} x2={[1197, 1314, 1432, 1547][k]} y={537} color={LEVEL_COLORS[k]} label={n} size={21} />
        ))}
        <text x={1270} y={583.5} textAnchor="middle" fontFamily={FONT} fontSize={21} fill="#000">
          Note: 1 Hour Chart for Last 24 Hours
        </text>

        <line x1={22} x2={1706} y1={588} y2={588} stroke="#808080" strokeWidth={2} />

        <LegendLine x1={248} x2={292} y={671} color={STEEL} label="20 Day" />
        <LegendLine x1={411} x2={455} y={671} color={RED} label="50 Day" />
        <LegendLine x1={572} x2={616} y={671} color={GREEN} label="200 Day" />

        <LegendBox x1={184} x2={227} y={1133} color="#595959" label="Divergence" />
        <LegendLine x1={378} x2={424} y={1133} color={GREEN} label="MACD" />
        <LegendLine x1={531} x2={576} y={1133} color={RED} label="MACD Signal Line" />

        <LegendLine x1={954} x2={1003} y={1094} color={BLUE} label="Close" size={21} />
        {levelNames.map((n, k) => (
          <LegendLine key={n} x1={[1106, 1232, 1357, 1481][k]} x2={[1157, 1283, 1408, 1532][k]} y={1094} color={LEVEL_COLORS[k]} label={n} size={21} />
        ))}
        <text x={1276} y={1145} textAnchor="middle" fontFamily={FONT} fontSize={21} fill="#000">
          Note: 1 Hour Chart for Last 1 Week
        </text>

        <line x1={22} x2={1706} y1={1175} y2={1175} stroke="#808080" strokeWidth={2} />
      </svg>
    </div>
  );
}
